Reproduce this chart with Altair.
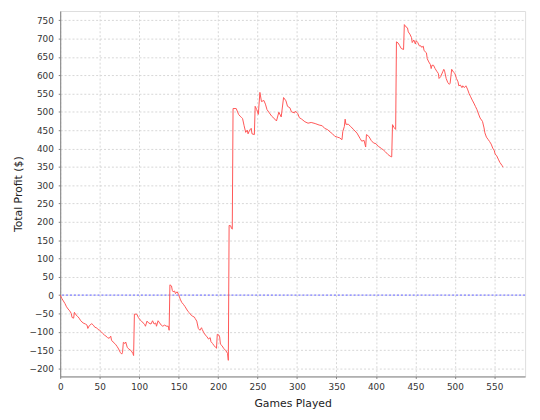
import altair as alt
import pandas as pd

games = [0, 2, 4, 6, 8, 10, 12, 14, 15, 17, 18, 20, 22, 24, 26, 29, 32, 34, 35, 37,
         40, 42, 44, 46, 48, 50, 52, 54, 56, 58, 60, 62, 64, 65, 67, 70, 72, 74, 76, 78,
         79, 80, 82, 83, 85, 87, 90, 92, 93, 94, 97, 99, 101, 103, 105, 107, 108, 110, 112, 115,
         117, 119, 121, 122, 124, 126, 128, 130, 132, 135, 137, 138, 139, 141, 142, 143, 145, 146, 148, 150,
         151, 152, 154, 156, 158, 160, 162, 164, 166, 168, 170, 171, 173, 175, 177, 179, 180, 182, 184, 186,
         188, 190, 191, 193, 195, 197, 198, 199, 201, 202, 203, 205, 207, 210, 212, 213, 214, 216, 217, 218,
         219, 223, 226, 228, 230, 231, 233, 235, 237, 238, 240, 242, 243, 246, 247, 249, 251, 253, 255, 258,
         260, 262, 265, 268, 272, 274, 277, 280, 283, 286, 288, 291, 293, 297, 298, 301, 303, 306, 310, 314,
         318, 323, 328, 332, 335, 339, 342, 345, 348, 351, 354, 357, 358, 360, 361, 362, 365, 368, 372, 376,
         380, 382, 385, 387, 388, 391, 394, 397, 400, 403, 407, 410, 412, 415, 418, 420, 421, 423, 425, 426,
         428, 430, 432, 435, 436, 438, 440, 441, 443, 445, 446, 448, 450, 451, 453, 455, 457, 458, 460, 461,
         462, 464, 465, 467, 469, 470, 471, 473, 475, 477, 479, 480, 482, 485, 486, 487, 489, 491, 493, 494,
         496, 498, 500, 502, 504, 505, 507, 509, 510, 512, 514, 516, 518, 520, 522, 524, 526, 528, 530, 532,
         535, 537, 538, 540, 542, 544, 546, 548, 550, 551, 553, 555, 557, 560, 561]

profit = [0, -9, -16, -23, -32, -38, -43, -50, -61, -63, -47, -54, -58, -63, -70, -76, -79, -82, -91, -83,
          -78, -82, -88, -89, -94, -96, -100, -105, -109, -112, -116, -118, -112, -123, -128, -134, -140, -147, -156, -161,
          -156, -129, -132, -128, -143, -147, -152, -159, -165, -52, -52, -61, -67, -71, -76, -80, -85, -71, -76, -79,
          -70, -79, -76, -85, -70, -76, -82, -85, -82, -85, -85, -96, 28, 25, 13, 9, 11, 4, 9, 2,
          -4, -11, -20, -25, -31, -38, -45, -49, -55, -58, -60, -64, -71, -91, -96, -89, -94, -103, -109, -114,
          -120, -116, -127, -132, -138, -143, -145, -107, -109, -114, -134, -138, -145, -152, -159, -178, 190, 189, 182, 180,
          509, 509, 493, 488, 484, 482, 462, 444, 450, 440, 450, 455, 440, 438, 515, 506, 493, 553, 528, 531,
          521, 506, 497, 488, 480, 475, 499, 486, 539, 530, 515, 511, 500, 497, 502, 495, 484, 480, 473, 469,
          471, 468, 464, 462, 455, 451, 445, 440, 433, 431, 429, 424, 446, 460, 480, 466, 466, 460, 451, 442,
          427, 420, 422, 404, 438, 433, 422, 415, 413, 406, 400, 395, 391, 384, 379, 377, 465, 457, 452, 691,
          688, 681, 673, 670, 738, 732, 729, 718, 712, 703, 689, 696, 685, 694, 689, 680, 680, 676, 679, 667,
          665, 661, 645, 636, 629, 618, 627, 627, 618, 611, 605, 591, 596, 611, 616, 611, 591, 580, 575, 578,
          616, 609, 605, 591, 582, 571, 573, 566, 571, 566, 571, 562, 550, 541, 532, 524, 515, 506, 494, 483,
          474, 456, 443, 431, 425, 419, 412, 401, 394, 385, 380, 371, 362, 353, 349]

x_ticks = list(range(0, 551, 50))
y_ticks = list(range(-200, 751, 50))
zero_level = [0]

df = pd.DataFrame({"game": games, "profit": profit})
zdf = pd.DataFrame({"profit": zero_level})

FONT = "DejaVu Sans"
xscale = alt.Scale(domain=[0, 589], nice=False, zero=False)
yscale = alt.Scale(domain=[-222, 775], nice=False, zero=False)

xaxis = alt.Axis(
    values=x_ticks, grid=True, gridColor="#D6D6D6", gridDash=[2, 2], gridWidth=1,
    domainColor="#808080", tickColor="#808080", tickSize=2, labelFlush=False,
    labelFont=FONT, labelFontSize=9, labelColor="#333333", labelPadding=11,
    labelBaseline="alphabetic", labelAlign="center",
    titleFont=FONT, titleFontSize=11, titleFontWeight="normal", titleColor="#222222",
    titleX=236, titleY=30.5, titleBaseline="alphabetic", titleAlign="center",
)
yaxis = alt.Axis(
    values=y_ticks, grid=True, gridColor="#D6D6D6", gridDash=[2, 2], gridWidth=1,
    domainColor="#808080", tickColor="#808080", tickSize=2,
    labelFont=FONT, labelFontSize=9, labelColor="#333333", labelPadding=5,
    labelBaseline="middle", labelAlign="right",
    titleFont=FONT, titleFontSize=11, titleFontWeight="normal", titleColor="#222222",
    titleX=-42, titleY=185.5, titleAngle=270, titleBaseline="middle", titleAlign="center",
)

zero_rule = alt.Chart(zdf).mark_rule(color="#5555FF", strokeDash=[2, 2], strokeWidth=1).encode(
    y=alt.Y("profit:Q", scale=yscale, axis=yaxis, title="Total Profit ($)")
)

line = alt.Chart(df).mark_line(color="#FF5555", strokeWidth=1, interpolate="linear").encode(
    x=alt.X("game:Q", scale=xscale, axis=xaxis, title="Games Played"),
    y=alt.Y("profit:Q", scale=yscale, axis=yaxis, title="Total Profit ($)"),
)

chart = alt.layer(zero_rule, line).properties(
    width=472, height=371,
    autosize=alt.AutoSizeParams(type="none"),
    padding={"left": 53, "top": 0, "right": 7, "bottom": 33},
).configure_view(stroke="#B4B4B4", strokeWidth=1).configure(background="white")

chart.save("out.html", embed_options={"renderer": "svg", "actions": False})
